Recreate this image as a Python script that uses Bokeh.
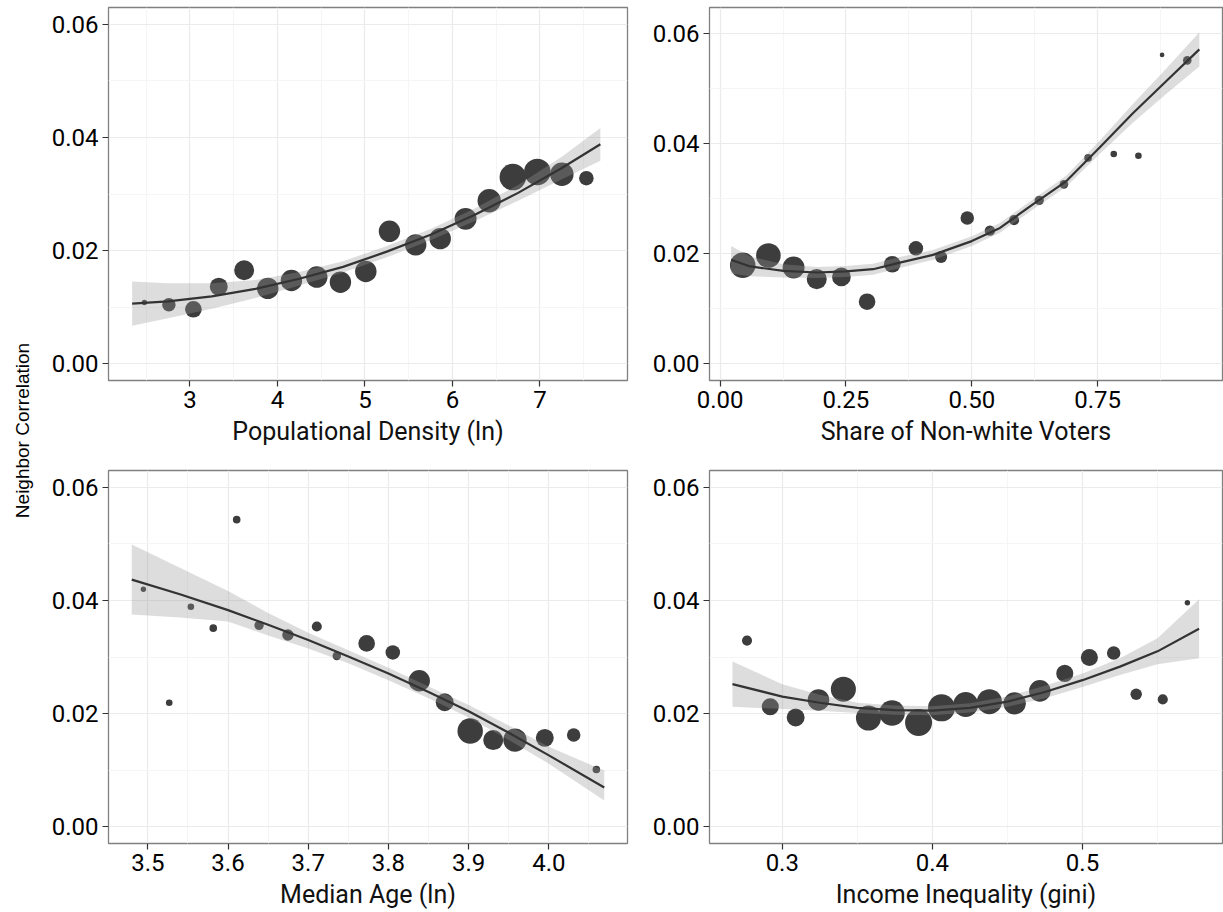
import math
from bokeh.plotting import figure
from bokeh.layouts import row, column
from bokeh.models import Range1d, FixedTicker, PrintfTickFormatter, ColumnDataSource, Title, Spacer
from bokeh.embed import file_html
from bokeh.resources import INLINE

# ---------------- data ----------------
y_label = "Neighbor Correlation"
y_ticks = [0.0, 0.02, 0.04, 0.06]
y_minor = [0.01, 0.03, 0.05]

# Panel 1: Populational Density (ln)
density_x = [2.48, 2.76, 3.04, 3.33, 3.62, 3.89, 4.16, 4.45, 4.72, 5.01, 5.28, 5.58, 5.86, 6.15, 6.42, 6.69, 6.97, 7.25, 7.53]
density_y = [0.0108, 0.0104, 0.0096, 0.0136, 0.0165, 0.0133, 0.0147, 0.0153, 0.0144, 0.0163, 0.0234, 0.0210, 0.0221, 0.0256, 0.0288, 0.0330, 0.0339, 0.0335, 0.0328]
density_w = [4, 25, 38, 44, 55, 63, 63, 63, 63, 63, 63, 63, 63, 66, 75, 97, 97, 75, 29]
density_fit_x = [2.34, 2.75, 3.25, 3.75, 4.25, 4.75, 5.25, 5.75, 6.25, 6.75, 7.25, 7.69]
density_fit_y = [0.0106, 0.0110, 0.0119, 0.0132, 0.0150, 0.0171, 0.0198, 0.0228, 0.0263, 0.0302, 0.0346, 0.0388]
density_fit_lo = [0.0067, 0.0080, 0.0097, 0.0116, 0.0138, 0.0161, 0.0188, 0.0218, 0.0252, 0.0288, 0.0326, 0.0359]
density_fit_hi = [0.0145, 0.0142, 0.0142, 0.0148, 0.0162, 0.0181, 0.0208, 0.0238, 0.0274, 0.0316, 0.0366, 0.0417]
density_ticks = [3, 4, 5, 6, 7]
density_minor = [2.5, 3.5, 4.5, 5.5, 6.5, 7.5]

# Panel 2: Share of Non-white Voters
nonwhite_x = [0.045, 0.096, 0.146, 0.192, 0.241, 0.292, 0.342, 0.389, 0.439, 0.491, 0.536, 0.584, 0.634, 0.683, 0.731, 0.782, 0.831, 0.878, 0.928]
nonwhite_y = [0.0179, 0.0197, 0.0175, 0.0154, 0.0158, 0.0113, 0.0181, 0.0210, 0.0194, 0.0265, 0.0242, 0.0261, 0.0297, 0.0326, 0.0374, 0.0381, 0.0378, 0.0561, 0.0551]
nonwhite_w = [89, 83, 66, 55, 48, 38, 38, 29, 20, 25, 15, 14, 12, 10, 8, 6, 6, 3, 10]
nonwhite_fit_x = [0.022, 0.060, 0.126, 0.192, 0.250, 0.304, 0.357, 0.423, 0.500, 0.556, 0.622, 0.688, 0.754, 0.820, 0.886, 0.952]
nonwhite_fit_y = [0.0189, 0.0177, 0.0169, 0.0166, 0.0168, 0.0172, 0.0184, 0.0198, 0.0223, 0.0247, 0.0290, 0.0332, 0.0393, 0.0455, 0.0513, 0.0571]
nonwhite_fit_lo = [0.0164, 0.0159, 0.0157, 0.0156, 0.0158, 0.0162, 0.0174, 0.0189, 0.0214, 0.0238, 0.0281, 0.0322, 0.0381, 0.0438, 0.0490, 0.0540]
nonwhite_fit_hi = [0.0214, 0.0195, 0.0181, 0.0176, 0.0178, 0.0182, 0.0194, 0.0207, 0.0232, 0.0256, 0.0299, 0.0342, 0.0405, 0.0472, 0.0536, 0.0602]
nonwhite_ticks = [0.0, 0.25, 0.5, 0.75]
nonwhite_minor = [0.125, 0.375, 0.625, 0.875]

# Panel 3: Median Age (ln)
age_x = [3.4945, 3.5267, 3.5537, 3.5816, 3.6108, 3.6387, 3.6747, 3.7107, 3.7356, 3.7728, 3.8054, 3.8384, 3.8701, 3.9019, 3.9306, 3.9577, 3.9949, 4.0309, 4.0592]
age_y = [0.0420, 0.0219, 0.0389, 0.0351, 0.0543, 0.0356, 0.0339, 0.0354, 0.0302, 0.0324, 0.0308, 0.0258, 0.0220, 0.0169, 0.0153, 0.0153, 0.0157, 0.0162, 0.0101]
age_w = [4, 6, 6, 8, 8, 12, 18, 14, 10, 38, 29, 63, 44, 89, 55, 75, 44, 25, 8]
age_fit_x = [3.480, 3.540, 3.600, 3.650, 3.700, 3.750, 3.800, 3.850, 3.900, 3.950, 4.000, 4.069]
age_fit_y = [0.0437, 0.0411, 0.0383, 0.0357, 0.0330, 0.0301, 0.0271, 0.0238, 0.0204, 0.0166, 0.0126, 0.0069]
age_fit_lo = [0.0375, 0.0370, 0.0363, 0.0338, 0.0315, 0.0289, 0.0259, 0.0227, 0.0193, 0.0153, 0.0111, 0.0046]
age_fit_hi = [0.0499, 0.0458, 0.0417, 0.0378, 0.0343, 0.0312, 0.0281, 0.0248, 0.0215, 0.0179, 0.0141, 0.0099]
age_ticks = [3.5, 3.6, 3.7, 3.8, 3.9, 4.0]
age_minor = [3.45, 3.55, 3.65, 3.75, 3.85, 3.95, 4.05]

# Panel 4: Income Inequality (gini)
gini_x = [0.2765, 0.2920, 0.3089, 0.3241, 0.3407, 0.3574, 0.3731, 0.3908, 0.4061, 0.4222, 0.4380, 0.4548, 0.4716, 0.4882, 0.5046, 0.5208, 0.5358, 0.5535, 0.5699]
gini_y = [0.0329, 0.0212, 0.0193, 0.0224, 0.0243, 0.0192, 0.0201, 0.0184, 0.0210, 0.0216, 0.0221, 0.0218, 0.0240, 0.0271, 0.0299, 0.0307, 0.0234, 0.0225, 0.0396]
gini_w = [14, 40, 44, 64, 86, 86, 90, 100, 100, 86, 86, 69, 64, 40, 40, 25, 18, 14, 4]
gini_fit_x = [0.2668, 0.300, 0.325, 0.350, 0.375, 0.400, 0.425, 0.450, 0.475, 0.500, 0.525, 0.550, 0.5777]
gini_fit_y = [0.0252, 0.0230, 0.0219, 0.0210, 0.0206, 0.0205, 0.0210, 0.0221, 0.0238, 0.0259, 0.0283, 0.0310, 0.0350]
gini_fit_lo = [0.0212, 0.0208, 0.0205, 0.0201, 0.0198, 0.0197, 0.0202, 0.0212, 0.0227, 0.0247, 0.0268, 0.0287, 0.0298]
gini_fit_hi = [0.0292, 0.0252, 0.0233, 0.0219, 0.0214, 0.0213, 0.0218, 0.0230, 0.0249, 0.0271, 0.0298, 0.0333, 0.0402]
gini_ticks = [0.3, 0.4, 0.5]
gini_minor = [0.25, 0.35, 0.45, 0.55]

# ---------------- styling ----------------
POINT_COLOR = "#3D3D3D"
LINE_COLOR = "#333333"
FONT = "Roboto"


def panel(xs, ys, ws, fx, fy, flo, fhi, xlabel, xr, yr, xticks, xminor, xfmt,
          width, height, bl, br, bt, bb):
    p = figure(width=width, height=height, x_range=Range1d(*xr), y_range=Range1d(*yr),
               output_backend="svg", toolbar_location=None,
               min_border_left=bl, min_border_right=br, min_border_top=bt, min_border_bottom=bb)
    p.background_fill_color = "white"
    p.border_fill_color = "white"
    p.outline_line_color = "#808080"
    p.outline_line_width = 1.3

    p.xaxis.ticker = FixedTicker(ticks=xticks, minor_ticks=xminor)
    p.yaxis.ticker = FixedTicker(ticks=y_ticks, minor_ticks=y_minor)
    p.xaxis.formatter = PrintfTickFormatter(format=xfmt)
    p.yaxis.formatter = PrintfTickFormatter(format="%.2f")

    for g in (p.xgrid, p.ygrid):
        g.grid_line_color = "#EBEBEB"
        g.grid_line_width = 1.2
        g.minor_grid_line_color = "#F5F5F5"
        g.minor_grid_line_width = 1

    for ax in (p.xaxis, p.yaxis):
        ax.axis_line_color = None
        ax.major_tick_line_color = "#333333"
        ax.major_tick_line_width = 1.2
        ax.major_tick_out = 6
        ax.major_tick_in = 0
        ax.minor_tick_line_color = None
        ax.major_label_text_font = FONT
        ax.major_label_text_font_size = "24px"
        ax.major_label_text_color = "#000000"
        ax.major_label_standoff = 4
        ax.axis_label_text_font = FONT
        ax.axis_label_text_font_size = "25px"
        ax.axis_label_text_font_style = "normal"
        ax.axis_label_text_color = "#111111"
        ax.axis_label_standoff = 6
    p.xaxis.axis_label = xlabel

    sizes = [2 * 1.35 * math.sqrt(w) for w in ws]
    src = ColumnDataSource(dict(x=xs, y=ys, s=sizes))
    p.scatter("x", "y", size="s", source=src, marker="circle",
              fill_color=POINT_COLOR, line_color=None)
    p.varea(x=fx, y1=flo, y2=fhi, fill_color="#999999", fill_alpha=0.33)
    p.line(fx, fy, line_color=LINE_COLOR, line_width=2.2)
    return p


Y_RANGE = (-0.003, 0.063)
TOP_H, BOT_H = 462, 450
LEFT_W, RIGHT_W = 599, 588
PAD_W, LAB_W = 9, 27

p1 = panel(density_x, density_y, density_w, density_fit_x, density_fit_y, density_fit_lo, density_fit_hi,
           "Populational Density (ln)", (2.07, 8.0), Y_RANGE, density_ticks, density_minor, "%d",
           LEFT_W, TOP_H, 72, 8, 7, 82)
p2 = panel(nonwhite_x, nonwhite_y, nonwhite_w, nonwhite_fit_x, nonwhite_fit_y, nonwhite_fit_lo, nonwhite_fit_hi,
           "Share of Non-white Voters", (-0.021, 0.998), (-0.003, 0.0647), nonwhite_ticks, nonwhite_minor, "%.2f",
           RIGHT_W, TOP_H, 74, 1, 7, 82)
p3 = panel(age_x, age_y, age_w, age_fit_x, age_fit_y, age_fit_lo, age_fit_hi,
           "Median Age (ln)", (3.451, 4.098), Y_RANGE, age_ticks, age_minor, "%.1f",
           LEFT_W, BOT_H, 72, 8, 8, 69)
p4 = panel(gini_x, gini_y, gini_w, gini_fit_x, gini_fit_y, gini_fit_lo, gini_fit_hi,
           "Income Inequality (gini)", (0.2515, 0.5933), Y_RANGE, gini_ticks, gini_minor, "%.1f",
           RIGHT_W, BOT_H, 74, 1, 8, 69)

lab = figure(width=LAB_W, height=TOP_H + BOT_H, x_range=Range1d(0, 1), y_range=Range1d(0, 1),
             output_backend="svg", toolbar_location=None, x_axis_location=None, y_axis_location=None,
             min_border_left=0, min_border_right=0, min_border_top=0, min_border_bottom=52)
lab.outline_line_color = None
lab.xgrid.visible = False
lab.ygrid.visible = False
lab.background_fill_color = "white"
lab.border_fill_color = "white"
lab.add_layout(Title(text=y_label, align="center", text_font="Liberation Sans",
                     text_font_size="19px", text_font_style="normal", text_color="#000000",
                     standoff=0, offset=0), "left")

layout = row(Spacer(width=PAD_W, height=TOP_H + BOT_H), lab, column(row(p1, p2), row(p3, p4)))

open("out.html", "w").write(file_html(layout, INLINE))
